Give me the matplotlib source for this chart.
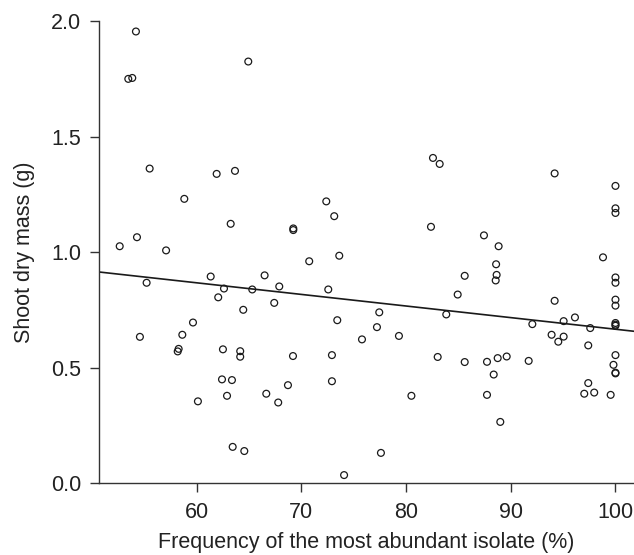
import numpy as np
import matplotlib
matplotlib.use("Agg")
import matplotlib.pyplot as plt

# frequency of the most abundant isolate (%)
freq = [54.2, 53.47, 53.85, 64.93, 55.51, 61.91, 63.66, 58.82, 63.25, 69.23,
        69.23, 52.65, 54.30, 57.08, 70.75, 61.34, 66.49, 82.57, 83.21, 94.19,
        100.0, 100.0, 100.0, 72.38, 73.14, 82.38, 87.44, 88.84, 73.62, 98.81,
        88.6, 85.6, 88.65, 88.56, 100.0, 100.0, 55.22, 62.61, 62.06, 65.31,
        67.89, 67.41, 64.45, 59.65, 54.58, 58.63, 58.28, 58.19, 62.51, 64.16,
        64.16, 69.20, 62.42, 63.37, 68.72, 62.90, 66.65, 60.12, 67.79, 63.44,
        64.55, 72.57, 84.93, 73.43, 77.44, 77.22, 75.79, 79.32, 83.84, 94.19,
        100.0, 100.0, 92.06, 95.05, 96.13, 100.0, 100.0, 100.0, 97.59, 93.9,
        95.05, 94.54, 97.40, 72.92, 72.92, 83.02, 85.60, 87.73, 88.75, 89.61,
        91.71, 100.0, 99.81, 100.0, 100.0, 88.37, 97.40, 80.51, 87.73, 97.02,
        97.97, 99.54, 89.0, 77.6, 74.08]

# shoot dry mass (g)
mass = [1.955, 1.750, 1.754, 1.825, 1.362, 1.339, 1.352, 1.231, 1.123, 1.103,
        1.096, 1.026, 1.065, 1.008, 0.961, 0.895, 0.900, 1.408, 1.382, 1.341,
        1.287, 1.190, 1.170, 1.220, 1.156, 1.110, 1.073, 1.026, 0.985, 0.978,
        0.948, 0.898, 0.902, 0.878, 0.891, 0.868, 0.868, 0.843, 0.805, 0.839,
        0.852, 0.781, 0.751, 0.696, 0.634, 0.643, 0.582, 0.571, 0.580, 0.572,
        0.548, 0.551, 0.450, 0.447, 0.425, 0.379, 0.388, 0.355, 0.350, 0.158,
        0.140, 0.839, 0.817, 0.706, 0.740, 0.676, 0.623, 0.638, 0.731, 0.790,
        0.795, 0.769, 0.689, 0.702, 0.718, 0.694, 0.687, 0.682, 0.672, 0.643,
        0.635, 0.613, 0.597, 0.555, 0.442, 0.547, 0.525, 0.526, 0.542, 0.549,
        0.530, 0.555, 0.513, 0.479, 0.476, 0.471, 0.434, 0.379, 0.383, 0.388,
        0.393, 0.383, 0.266, 0.132, 0.036]

# fitted regression line
fit_intercept = 1.169
fit_slope = -0.00502

x_ticks = [60, 70, 80, 90, 100]
y_ticks = [0.0, 0.5, 1.0, 1.5, 2.0]


def main():
    plt.rcParams['font.family'] = ['Liberation Sans', 'DejaVu Sans']
    fig = plt.figure(figsize=(6.34, 5.55), dpi=100)
    ax = fig.add_axes([0.1566, 0.129, 0.8434, 0.833])

    ax.scatter(freq, mass, s=24, facecolors='none', edgecolors='#1a1a1a',
               linewidths=0.9, zorder=3)

    xlim = (50.7, 101.77)
    xs = np.array(xlim)
    ax.plot(xs, fit_intercept + fit_slope * xs, color='#1a1a1a', lw=1.2)

    ax.set_xlim(*xlim)
    ax.set_ylim(0, 2.0)
    ax.set_xticks(x_ticks)
    ax.set_yticks(y_ticks)
    ax.set_yticklabels([f"{v:.1f}" for v in y_ticks])
    for side in ('top', 'right'):
        ax.spines[side].set_visible(False)
    for side in ('left', 'bottom'):
        ax.spines[side].set_color('#333333')
        ax.spines[side].set_linewidth(1.0)
    ax.tick_params(direction='out', length=6.2, width=1.0, colors='#333333',
                   labelsize=15.5, labelcolor='#222222', pad=7)

    ax.set_xlabel("Frequency of the most abundant isolate (%)", fontsize=15.5,
                  color='#222222', labelpad=7)
    ax.set_ylabel("Shoot dry mass (g)", fontsize=15.5, color='#222222',
                  labelpad=11)

    fig.savefig('out.png', dpi=100)


if __name__ == '__main__':
    main()
